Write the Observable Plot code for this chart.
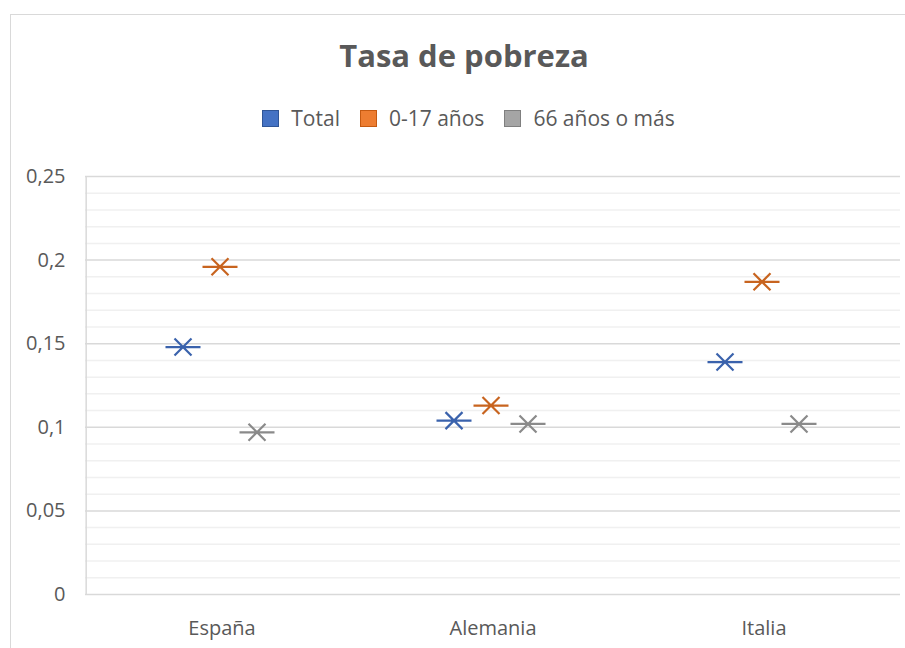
<!DOCTYPE html>
<html>
<head>
<meta charset="utf-8">
<script src="https://cdn.jsdelivr.net/npm/d3@7"></script>
<script src="https://cdn.jsdelivr.net/npm/@observablehq/plot@0.6"></script>
<style>
  html, body { margin: 0; padding: 0; background: #fff; }
  body { width: 905px; height: 648px; overflow: hidden; position: relative; font-family: "Open Sans", sans-serif; color: #595959; }
  #frame { position: absolute; left: 10px; top: 14px; width: 1000px; height: 1000px; border-top: 1.5px solid #D9D9D9; border-left: 1.5px solid #D9D9D9; }
  #title { position: absolute; left: 0; top: 35px; width: 928px; height: 40px; line-height: 40px; text-align: center; font-size: 31px; font-weight: 700; color: #595959; }
  #legend { position: absolute; left: 0; top: 103px; width: 937px; height: 30px; display: flex; justify-content: center; align-items: center; font-size: 21px; color: #595959; }
  .item { display: flex; align-items: center; margin: 0 10px; }
  .sw { width: 17px; height: 17px; margin-right: 12px; box-sizing: border-box; border: 1.5px solid; }
  #chart { position: absolute; left: 0; top: 133px; }
</style>
</head>
<body>
<div id="frame"></div>
<div id="title">Tasa de pobreza</div>
<div id="legend"></div>
<div id="chart"></div>
<script>
const countries = ["España", "Alemania", "Italia"];
const seriesNames = ["Total", "0-17 años", "66 años o más"];
const total = [0.148, 0.104, 0.139];
const kids = [0.196, 0.113, 0.187];
const elderly = [0.097, 0.102, 0.102];
const yTicks = [0, 0.05, 0.1, 0.15, 0.2, 0.25];
const minorTicks = d3.range(0, 26).map(i => i / 100);

const legendFill = ["#4472C4", "#ED7D31", "#A5A5A5"];
const legendBorder = ["#2F5597", "#C55A11", "#7F7F7F"];
const markerColor = ["#3A62AC", "#C8641F", "#8A8A8A"];
const offsets = [-39, -2, 35];
const seriesValues = [total, kids, elderly];

const legend = document.getElementById("legend");
seriesNames.forEach((s, i) => {
  const it = document.createElement("div");
  it.className = "item";
  const sw = document.createElement("div");
  sw.className = "sw";
  sw.style.background = legendFill[i];
  sw.style.borderColor = legendBorder[i];
  const t = document.createElement("span");
  t.textContent = s;
  it.appendChild(sw); it.appendChild(t);
  legend.appendChild(it);
});

const starSymbol = {
  draw(context) {
    context.moveTo(-17.5, 0); context.lineTo(17.5, 0);
    context.moveTo(-8.5, -8.5); context.lineTo(8.5, 8.5);
    context.moveTo(-8.5, 8.5); context.lineTo(8.5, -8.5);
  }
};

const data = seriesNames.map((s, i) => countries.map((c, j) => ({country: c, series: s, value: seriesValues[i][j]})));

const W = 905, ML = 85, MR = 5;
const halfBand = (W - ML - MR) / countries.length / 2;

const marks = [
  Plot.ruleY(minorTicks.filter(v => Math.round(v * 100) % 5 !== 0), {stroke: "#F0F0F0", strokeWidth: 1.5}),
  Plot.ruleY(yTicks.filter(v => v > 0), {stroke: "#D9D9D9", strokeWidth: 1.5}),
  Plot.ruleY([0], {stroke: "#D9D9D9", strokeWidth: 1.5}),
  Plot.ruleX([countries[0]], {x: d => d, dx: -halfBand, y1: 0, y2: 0.25, stroke: "#D9D9D9", strokeWidth: 1.5}),
  ...data.map((d, i) => Plot.dot(d, {
    x: "country", y: "value", dx: offsets[i],
    symbol: starSymbol, fill: "none", stroke: markerColor[i], strokeWidth: 2.2
  }))
];

const chart = Plot.plot({
  width: W,
  height: 515,
  marginLeft: ML,
  marginRight: MR,
  marginTop: 43,
  marginBottom: 54,
  style: {fontFamily: "Open Sans, sans-serif", fontSize: "20px", color: "#595959", background: "transparent", overflow: "visible"},
  x: {type: "band", domain: countries, padding: 0, label: null, tickSize: 0, tickPadding: 26},
  y: {domain: [0, 0.25], ticks: yTicks, label: null, tickSize: 0, tickPadding: 20,
      tickFormat: d => String(d).replace(".", ",")},
  marks
});
document.getElementById("chart").appendChild(chart);
</script>
</body>
</html>
